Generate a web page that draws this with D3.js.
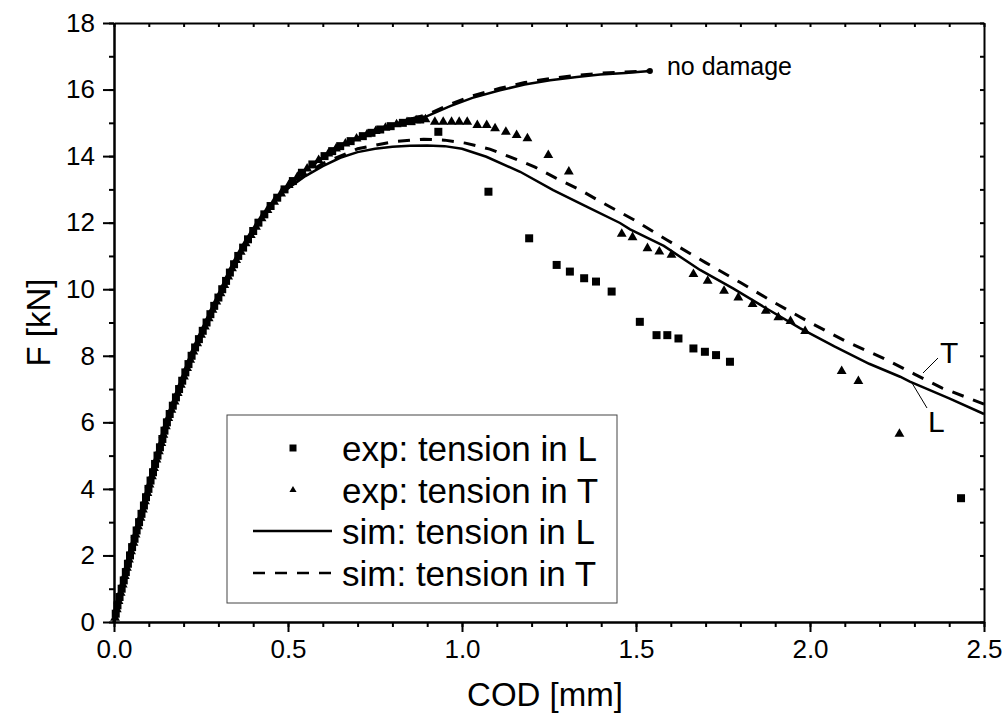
<!DOCTYPE html>
<html>
<head>
<meta charset="utf-8">
<script src="https://cdn.jsdelivr.net/npm/d3@7"></script>
<style>
    body { margin: 0; background: #fff; }
    svg { display: block; font-family: Arial, "Liberation Sans", sans-serif; }
    .axis path, .axis line { stroke: #000; stroke-width: 2; }
    .axis text { font-size: 26px; fill: #000; }
</style>
</head>
<body>
<div id="chart"></div>
<script>
// ---- data (COD in mm, F in kN) ----

// experiment, tension in L (squares)
const expL_cod = [
    0.005, 0.010, 0.016, 0.022, 0.028, 0.034, 0.040, 0.046, 0.052, 0.059,
    0.065, 0.072, 0.079, 0.086, 0.092, 0.099, 0.105, 0.112, 0.118, 0.125,
    0.132, 0.139, 0.145, 0.152, 0.160, 0.169, 0.178, 0.187, 0.196, 0.205,
    0.214, 0.223, 0.233, 0.244, 0.255, 0.266, 0.277, 0.288, 0.300, 0.311,
    0.322, 0.333, 0.345, 0.357, 0.371, 0.385, 0.400, 0.415, 0.432, 0.450,
    0.469, 0.490, 0.514, 0.540, 0.570, 0.605, 0.627, 0.650, 0.680, 0.715,
    0.740, 0.765, 0.795, 0.830, 0.855, 0.880,
    0.932, 1.076, 1.193, 1.272, 1.310, 1.351, 1.385, 1.430, 1.511, 1.559,
    1.590, 1.622, 1.665, 1.698, 1.730, 1.770, 2.434
];
const expL_force = [
    0.25, 0.50, 0.75, 1.00, 1.25, 1.50, 1.75, 2.00, 2.25, 2.50,
    2.75, 3.00, 3.25, 3.50, 3.75, 4.00, 4.25, 4.50, 4.75, 5.00,
    5.25, 5.50, 5.75, 6.00, 6.25, 6.50, 6.75, 7.00, 7.25, 7.50,
    7.75, 8.00, 8.25, 8.50, 8.75, 9.00, 9.25, 9.50, 9.75, 10.00,
    10.25, 10.50, 10.75, 11.00, 11.25, 11.50, 11.75, 12.00, 12.25, 12.50,
    12.75, 13.00, 13.25, 13.50, 13.75, 14.00, 14.15, 14.30, 14.45, 14.60,
    14.70, 14.80, 14.90, 15.00, 15.05, 15.10,
    14.73, 12.93, 11.53, 10.73, 10.53, 10.33, 10.23, 9.93, 9.02, 8.62,
    8.62, 8.52, 8.22, 8.12, 8.02, 7.82, 3.72
];

// experiment, tension in T (triangles)
const expT_cod = [
    0.003, 0.008, 0.013, 0.019, 0.025, 0.031, 0.037, 0.043, 0.049, 0.056,
    0.062, 0.069, 0.076, 0.083, 0.089, 0.096, 0.102, 0.109, 0.115, 0.122,
    0.129, 0.136, 0.142, 0.149, 0.156, 0.165, 0.174, 0.183, 0.192, 0.201,
    0.210, 0.219, 0.228, 0.239, 0.250, 0.261, 0.272, 0.283, 0.294, 0.306,
    0.317, 0.328, 0.339, 0.351, 0.364, 0.378, 0.393, 0.408, 0.424, 0.441,
    0.460, 0.480, 0.502, 0.527, 0.555, 0.588, 0.616, 0.638, 0.665, 0.697,
    0.727, 0.752, 0.780, 0.812, 0.842, 0.868, 0.895,
    0.922, 0.946, 0.970, 0.992, 1.015, 1.044, 1.071, 1.095, 1.126, 1.157,
    1.188, 1.248, 1.307, 1.459, 1.490, 1.533, 1.567, 1.602, 1.665, 1.706,
    1.753, 1.794, 1.835, 1.873, 1.909, 1.944, 1.986, 2.091, 2.139, 2.257
];
const expT_force = [
    0.125, 0.375, 0.625, 0.875, 1.125, 1.375, 1.625, 1.875, 2.125, 2.375,
    2.625, 2.875, 3.125, 3.375, 3.625, 3.875, 4.125, 4.375, 4.625, 4.875,
    5.125, 5.375, 5.625, 5.875, 6.125, 6.375, 6.625, 6.875, 7.125, 7.375,
    7.625, 7.875, 8.125, 8.375, 8.625, 8.875, 9.125, 9.375, 9.625, 9.875,
    10.125, 10.375, 10.625, 10.875, 11.125, 11.375, 11.625, 11.875, 12.125, 12.375,
    12.625, 12.875, 13.125, 13.375, 13.625, 13.875, 14.075, 14.225, 14.375, 14.525,
    14.65, 14.75, 14.85, 14.95, 15.02, 15.07, 15.10,
    15.03, 15.03, 15.03, 15.03, 15.03, 14.93, 14.93, 14.83, 14.73, 14.63,
    14.53, 14.03, 13.53, 11.66, 11.56, 11.23, 11.13, 11.03, 10.45, 10.25,
    9.95, 9.75, 9.55, 9.35, 9.15, 9.04, 8.74, 7.54, 7.24, 5.65
];

// simulation without damage, L (solid) and T (dashed) nearly coincide
const noDamage_cod = [
    0, 0.022, 0.046, 0.099, 0.152, 0.223, 0.266, 0.311, 0.357, 0.415,
    0.450, 0.490, 0.540, 0.605, 0.650, 0.715, 0.765, 0.830, 0.900, 0.966,
    1.030, 1.109, 1.180, 1.253, 1.330, 1.397, 1.470, 1.540
];
const noDamageL_force = [
    0, 1.0, 2.0, 4.0, 6.0, 8.0, 9.0, 10.0, 11.0, 12.0,
    12.5, 13.0, 13.5, 14.0, 14.3, 14.6, 14.8, 15.0, 15.2, 15.5,
    15.75, 15.98, 16.15, 16.28, 16.38, 16.45, 16.50, 16.56
];
const noDamageT_force = [
    0, 1.0, 2.0, 4.0, 6.0, 8.0, 9.0, 10.0, 11.0, 12.0,
    12.5, 13.0, 13.5, 14.0, 14.3, 14.62, 14.83, 15.04, 15.25, 15.56,
    15.81, 16.04, 16.21, 16.33, 16.43, 16.49, 16.53, 16.56
];

// simulation, tension in L (solid)
const simL_cod = [
    0, 0.022, 0.046, 0.099, 0.152, 0.223, 0.266, 0.311, 0.357, 0.415,
    0.450, 0.490, 0.550, 0.600, 0.650, 0.700, 0.750, 0.800, 0.850, 0.900,
    0.950, 1.000, 1.070, 1.167, 1.262, 1.358, 1.454, 1.483, 1.580, 1.684,
    1.780, 1.870, 1.971, 2.070, 2.170, 2.259, 2.287, 2.400, 2.500
];
const simL_force = [
    0, 1.0, 2.0, 4.0, 6.0, 8.0, 9.0, 10.0, 11.0, 12.0,
    12.5, 12.95, 13.4, 13.7, 13.95, 14.12, 14.22, 14.28, 14.31, 14.32,
    14.30, 14.22, 13.98, 13.53, 12.98, 12.48, 11.99, 11.80, 11.30, 10.58,
    10.02, 9.45, 8.83, 8.28, 7.76, 7.37, 7.22, 6.72, 6.25
];

// simulation, tension in T (dashed)
const simT_cod = [
    0, 0.022, 0.046, 0.099, 0.152, 0.223, 0.266, 0.311, 0.357, 0.415,
    0.450, 0.490, 0.550, 0.600, 0.700, 0.800, 0.890, 0.950, 1.010, 1.080,
    1.147, 1.210, 1.270, 1.340, 1.400, 1.500, 1.589, 1.700, 1.800, 1.894,
    2.000, 2.100, 2.210, 2.300, 2.380, 2.500
];
const simT_force = [
    0, 1.0, 2.0, 4.0, 6.0, 8.0, 9.0, 10.0, 11.0, 12.0,
    12.5, 12.97, 13.45, 13.78, 14.22, 14.43, 14.51, 14.48, 14.39, 14.21,
    13.94, 13.67, 13.34, 12.98, 12.62, 12.05, 11.48, 10.80, 10.20, 9.62,
    9.00, 8.45, 7.93, 7.45, 7.03, 6.55
];

// axis ticks
const xMajorTicks = [0, 0.5, 1.0, 1.5, 2.0, 2.5];
const xMinorTicks = d3.range(0, 2.501, 0.1);
const yMajorTicks = [0, 2, 4, 6, 8, 10, 12, 14, 16, 18];
const yMinorTicks = d3.range(0, 18.01, 1);

const legendLabels = [
    "exp: tension in L",
    "exp: tension in T",
    "sim: tension in L",
    "sim: tension in T"
];

// ---- layout ----
const width = 1003, height = 726;
const margin = { top: 23, right: 19, bottom: 104, left: 114 };

const svg = d3.select("#chart")
    .append("svg")
    .attr("width", width)
    .attr("height", height);

const x = d3.scaleLinear().domain([0, 2.5]).range([margin.left, width - margin.right]);
const y = d3.scaleLinear().domain([0, 18]).range([height - margin.bottom, margin.top]);

const zip = (xs, ys) => xs.map((v, i) => [v, ys[i]]);

// ---- axes ----
const bottom = height - margin.bottom;
const right = width - margin.right;

// minor ticks first, majors on top
svg.append("g").attr("class", "axis")
    .attr("transform", `translate(0,${bottom})`)
    .call(d3.axisBottom(x).tickValues(xMinorTicks).tickSize(5).tickSizeOuter(0).tickFormat(""));
svg.append("g").attr("class", "axis")
    .attr("transform", `translate(0,${bottom})`)
    .call(d3.axisBottom(x).tickValues(xMajorTicks).tickSize(10).tickSizeOuter(0)
        .tickPadding(8).tickFormat(d3.format(".1f")));

svg.append("g").attr("class", "axis")
    .attr("transform", `translate(${margin.left},0)`)
    .call(d3.axisLeft(y).tickValues(yMinorTicks).tickSize(5).tickSizeOuter(0).tickFormat(""));
svg.append("g").attr("class", "axis")
    .attr("transform", `translate(${margin.left},0)`)
    .call(d3.axisLeft(y).tickValues(yMajorTicks).tickSize(11).tickSizeOuter(0).tickPadding(8));

// mirrored axes, ticks pointing inward
svg.append("g").attr("class", "axis")
    .attr("transform", `translate(0,${margin.top})`)
    .call(d3.axisTop(x).tickValues(xMinorTicks).tickSize(-4).tickSizeOuter(0).tickFormat(""));
svg.append("g").attr("class", "axis")
    .attr("transform", `translate(${right},0)`)
    .call(d3.axisRight(y).tickValues(yMinorTicks).tickSize(-4).tickSizeOuter(0).tickFormat(""));

// axis titles
svg.append("text")
    .attr("x", (margin.left + right) / 2 - 4)
    .attr("y", 706)
    .attr("text-anchor", "middle")
    .attr("font-size", 33)
    .text("COD [mm]");

svg.append("text")
    .attr("transform", `translate(50,${(margin.top + bottom) / 2}) rotate(-90)`)
    .attr("text-anchor", "middle")
    .attr("font-size", 33)
    .text("F [kN]");

// ---- curves ----
const line = d3.line().x(d => x(d[0])).y(d => y(d[1]));

const plot = svg.append("g");

function drawCurve(xs, ys, dashed) {
    const p = plot.append("path")
        .attr("d", line(zip(xs, ys)))
        .attr("fill", "none")
        .attr("stroke", "#000")
        .attr("stroke-width", dashed ? 3 : 2.5);
    if (dashed) p.attr("stroke-dasharray", "12,10");
    return p;
}

drawCurve(noDamage_cod, noDamageL_force, false);
drawCurve(noDamage_cod, noDamageT_force, true);
drawCurve(simL_cod, simL_force, false);
drawCurve(simT_cod, simT_force, true);

// end dot of the undamaged curve
const lastND = noDamage_cod.length - 1;
plot.append("circle")
    .attr("cx", x(noDamage_cod[lastND]))
    .attr("cy", y(noDamageL_force[lastND]))
    .attr("r", 3);

// ---- experimental points ----
const square = d3.symbol(d3.symbolSquare, 64);
const triangle = d3.symbol(d3.symbolTriangle, 42);

plot.selectAll(".expL")
    .data(zip(expL_cod, expL_force))
    .join("path")
    .attr("class", "expL")
    .attr("d", square)
    .attr("transform", d => `translate(${x(d[0])},${y(d[1])})`);

plot.selectAll(".expT")
    .data(zip(expT_cod, expT_force))
    .join("path")
    .attr("class", "expT")
    .attr("d", triangle)
    .attr("transform", d => `translate(${x(d[0])},${y(d[1])})`);

// ---- annotations ----
svg.append("text")
    .attr("x", x(1.54) + 17).attr("y", 75)
    .attr("font-size", 25)
    .text("no damage");

svg.append("line")
    .attr("x1", 923).attr("y1", 373).attr("x2", 938).attr("y2", 358)
    .attr("stroke", "#000").attr("stroke-width", 1);
svg.append("text")
    .attr("x", 940).attr("y", 363)
    .attr("font-size", 30)
    .text("T");

svg.append("line")
    .attr("x1", 912).attr("y1", 383).attr("x2", 927).attr("y2", 408)
    .attr("stroke", "#000").attr("stroke-width", 1);
svg.append("text")
    .attr("x", 928).attr("y", 432)
    .attr("font-size", 30)
    .text("L");

// ---- legend ----
const legend = svg.append("g");
legend.append("rect")
    .attr("x", 227).attr("y", 415)
    .attr("width", 390).attr("height", 188)
    .attr("fill", "#fff")
    .attr("stroke", "#444").attr("stroke-width", 1);

const rowY = [448, 490, 531, 573];

legend.append("path")
    .attr("d", d3.symbol(d3.symbolSquare, 49)())
    .attr("transform", `translate(293,${rowY[0]})`);
legend.append("path")
    .attr("d", d3.symbol(d3.symbolTriangle, 22)())
    .attr("transform", `translate(293,${rowY[1]})`);
legend.append("line")
    .attr("x1", 253).attr("x2", 332).attr("y1", rowY[2]).attr("y2", rowY[2])
    .attr("stroke", "#000").attr("stroke-width", 2.5);
legend.append("line")
    .attr("x1", 253).attr("x2", 332).attr("y1", rowY[3]).attr("y2", rowY[3])
    .attr("stroke", "#000").attr("stroke-width", 2.5)
    .attr("stroke-dasharray", "12,10");

legend.selectAll(".label")
    .data(legendLabels)
    .join("text")
    .attr("class", "label")
    .attr("x", 342)
    .attr("y", (d, i) => rowY[i] + 13)
    .attr("font-size", 35)
    .text(d => d);
</script>
</body>
</html>
